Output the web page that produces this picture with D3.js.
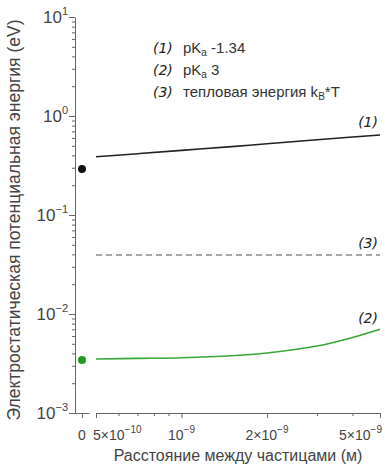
<!DOCTYPE html>
<html>
<head>
<meta charset="utf-8">
<script src="https://cdn.jsdelivr.net/npm/d3@7"></script>
<style>
  body { margin: 0; background: #fff; }
  text { font-family: "Liberation Sans", Arial, sans-serif; fill: #333; }
  .axis path, .axis line { stroke: #666; }
  .lab { font-family: "DejaVu Sans", sans-serif; font-style: italic; fill: #222; }
</style>
</head>
<body>
<svg id="chart" width="385" height="466"></svg>
<script>
// distance (m) vs energy (eV)
const distances = [5e-10, 7e-10, 1e-9, 1.5e-9, 2e-9, 3e-9, 4e-9, 5e-9];
const pka134 = [0.388, 0.416, 0.45, 0.491, 0.524, 0.575, 0.614, 0.643];
const pka3 = [0.00351, 0.00356, 0.00362, 0.00379, 0.00404, 0.00475, 0.00579, 0.0070];
const thermal = 0.0394;
const atZero = [{ v: 0.291, c: "#111" }, { v: 0.00343, c: "#1f9a1f" }];
const yTicks = [1e-3, 1e-2, 1e-1, 1, 10];
const xTicks = [5e-10, 1e-9, 2e-9, 5e-9];
const xTickLabels = [["5×10", "-10"], ["10", "-9"], ["2×10", "-9"], ["5×10", "-9"]];
const legend = [
  ["(1)", "pK", "a", " -1.34"],
  ["(2)", "pK", "a", " 3"],
  ["(3)", "тепловая энергия k", "B", "*T"]
];

const svg = d3.select("#chart");

const y = d3.scaleLog().domain([1e-3, 10]).range([413, 17]);
const x = d3.scaleLog().domain([5e-10, 5e-9]).range([96, 380]);
const x0 = d3.scaleLinear().domain([-1, 1]).range([75, 89]);

// y axis
const yMinor = [];
for (let e = -3; e < 1; e++) for (let k = 2; k <= 9; k++) yMinor.push(k * Math.pow(10, e));
svg.append("g").attr("class", "axis").attr("transform", "translate(75,0)")
  .call(d3.axisLeft(y).tickValues(yMinor).tickSize(3).tickFormat("").tickSizeOuter(0));
const gy = svg.append("g").attr("class", "axis").attr("transform", "translate(75,0)")
  .call(d3.axisLeft(y).tickValues(yTicks).tickSize(6).tickSizeOuter(0).tickFormat(""));
gy.select(".domain").remove();

const yl = svg.append("g").selectAll("text").data(yTicks).join("text")
  .attr("x", 68).attr("y", d => y(d) + 6)
  .attr("text-anchor", "end").style("font-size", "17px").style("fill", "#444");
yl.append("tspan").text("10");
yl.append("tspan").attr("dy", -8).style("font-size", "11px").text(d => {
  const e = Math.round(Math.log10(d));
  return e < 0 ? "−" + Math.abs(e) : e;
});

// x axis: zero segment
svg.append("g").attr("class", "axis").attr("transform", "translate(0,413)")
  .call(d3.axisBottom(x0).tickValues([0]).tickSize(5).tickSizeOuter(0).tickFormat(""));
svg.append("text").attr("x", x0(0)).attr("y", 440).attr("text-anchor", "middle")
  .style("font-size", "14px").style("fill", "#444").text("0");

// x axis: log part
const xMinor = [6e-10, 7e-10, 8e-10, 9e-10, 3e-9, 4e-9];
svg.append("g").attr("class", "axis").attr("transform", "translate(0,413)")
  .call(d3.axisBottom(x).tickValues(xMinor).tickSize(3).tickSizeOuter(5).tickFormat(""));
const gx = svg.append("g").attr("class", "axis").attr("transform", "translate(0,413)")
  .call(d3.axisBottom(x).tickValues(xTicks).tickSize(5).tickFormat(""));
gx.select(".domain").remove();

const lastT = xTicks.length - 1;
const xl = svg.append("g").selectAll("text").data(xTicks).join("text")
  .attr("x", (d, i) => x(d) + (i === 0 ? -3 : i === lastT ? 2 : 0)).attr("y", 440)
  .attr("text-anchor", (d, i) => i === 0 ? "start" : i === lastT ? "end" : "middle")
  .style("font-size", "14px").style("fill", "#444");
xl.append("tspan").text((d, i) => xTickLabels[i][0]);
xl.append("tspan").attr("dy", -7).style("font-size", "10px").text((d, i) => xTickLabels[i][1].replace("-", "−"));

// titles
svg.append("text").attr("x", 238).attr("y", 461).attr("text-anchor", "middle")
  .style("font-size", "16px").style("fill", "#444").text("Расстояние между частицами (м)");
svg.append("text").attr("transform", "translate(20,220) rotate(-90)").attr("text-anchor", "middle")
  .style("font-size", "17.5px").style("fill", "#444").text("Электростатическая потенциальная энергия (eV)");

// lines
const last = distances.length - 1;
const line = d3.line().x(d => x(d[0])).y(d => y(d[1])).curve(d3.curveCatmullRom);
svg.append("path").datum(d3.zip(distances, pka134)).attr("d", line)
  .attr("fill", "none").attr("stroke", "#222").attr("stroke-width", 1.6);
svg.append("path").datum(d3.zip(distances, pka3)).attr("d", line)
  .attr("fill", "none").attr("stroke", "#3aa63a").attr("stroke-width", 1.6);
svg.append("path").datum([[distances[0], thermal], [distances[last], thermal]]).attr("d", line)
  .attr("fill", "none").attr("stroke", "#888").attr("stroke-width", 1.4).attr("stroke-dasharray", "6,4");

svg.selectAll("circle").data(atZero).join("circle")
  .attr("cx", x0(0)).attr("cy", d => y(d.v)).attr("r", 4).attr("fill", d => d.c);

// curve labels
const curveLabels = [["(1)", pka134[last]], ["(3)", thermal], ["(2)", pka3[last]]];
svg.selectAll(".clab").data(curveLabels).join("text").attr("class", "lab")
  .attr("x", 378).attr("y", (d, i) => y(d[1]) - [8, 7, 6][i]).attr("text-anchor", "end")
  .style("font-size", "14px").text(d => d[0]);

// legend
legend.forEach((r, i) => {
  const yy = 53 + i * 22;
  svg.append("text").attr("class", "lab").attr("x", 153).attr("y", yy).style("font-size", "14px").text(r[0]);
  const t = svg.append("text").attr("x", 183).attr("y", yy).style("font-size", "15px");
  t.append("tspan").text(r[1]);
  t.append("tspan").attr("dy", 3).style("font-size", "10px").text(r[2]);
  t.append("tspan").attr("dy", -3).text(r[3]);
});
</script>
</body>
</html>
